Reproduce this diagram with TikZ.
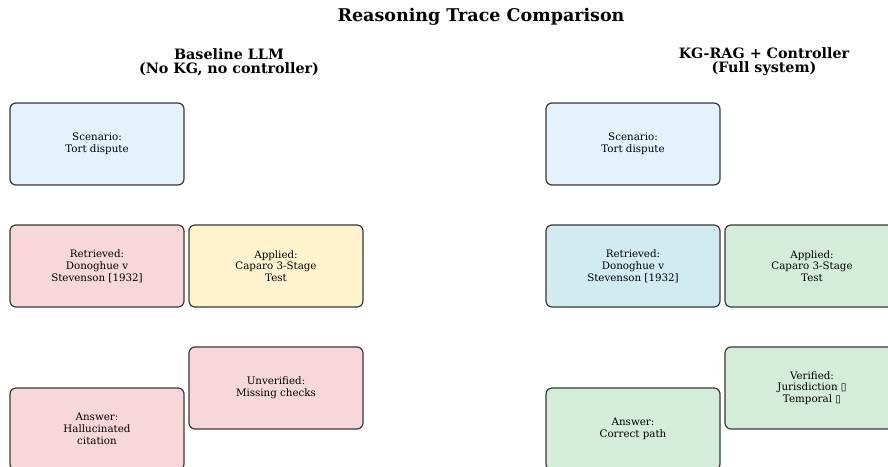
\documentclass[tikz,border=0pt]{standalone}
\usepackage{fontspec}
\setmainfont{DejaVu Serif}
\newfontfamily\glyphfont{DejaVu Sans}
\definecolor{scenfill}{HTML}{E3F2FD}
\definecolor{badfill}{HTML}{F8D7DA}
\definecolor{warnfill}{HTML}{FFF3CD}
\definecolor{infofill}{HTML}{D1ECF1}
\definecolor{goodfill}{HTML}{D4EDDA}
\definecolor{edgegray}{HTML}{383838}
\tikzset{
  tracebox/.style={draw=edgegray, line width=1.2pt, rounded corners=6pt,
    minimum width=174pt, minimum height=82pt, align=center,
    inner sep=0pt, font=\fontsize{10.3}{11.8}\selectfont},
  maintitle/.style={font=\fontsize{17.5}{20}\selectfont\bfseries},
  paneltitle/.style={align=center, font=\fontsize{14.3}{13.8}\selectfont\bfseries},
}
\newcommand{\boxmark}{{\glyphfont\char"25AF}}
\begin{document}
\begin{tikzpicture}[x=1pt, y=-1pt]
  \useasboundingbox (0,0) rectangle (888,466);
  \clip (0,0) rectangle (888,466);

  \node[maintitle] (title) at (481,17) {Reasoning Trace Comparison};
  \node[paneltitle] (lefthead) at (229,62) {Baseline LLM\\(No KG, no controller)};
  \node[paneltitle] (righthead) at (764,62) {KG-RAG + Controller\\(Full system)};

  % baseline trace
  \node[tracebox, fill=scenfill] (lscen) at (97,144) {Scenario:\\Tort dispute};
  \node[tracebox, fill=badfill] (lret) at (97,266) {Retrieved:\\Donoghue v\\Stevenson [1932]};
  \node[tracebox, fill=warnfill] (lapp) at (276,266) {Applied:\\Caparo 3-Stage\\Test};
  \node[tracebox, fill=badfill] (lver) at (276,388) {Unverified:\\Missing checks};
  \node[tracebox, fill=badfill] (lans) at (97,429) {Answer:\\Hallucinated\\citation};

  % full-system trace
  \node[tracebox, fill=scenfill] (rscen) at (633,144) {Scenario:\\Tort dispute};
  \node[tracebox, fill=infofill] (rret) at (633,266) {Retrieved:\\Donoghue v\\Stevenson [1932]};
  \node[tracebox, fill=goodfill] (rapp) at (812,266) {Applied:\\Caparo 3-Stage\\Test};
  \node[tracebox, fill=goodfill] (rver) at (812,388) {Verified:\\Jurisdiction \boxmark\\Temporal \boxmark};
  \node[tracebox, fill=goodfill] (rans) at (633,429) {Answer:\\Correct path};
\end{tikzpicture}
\end{document}
